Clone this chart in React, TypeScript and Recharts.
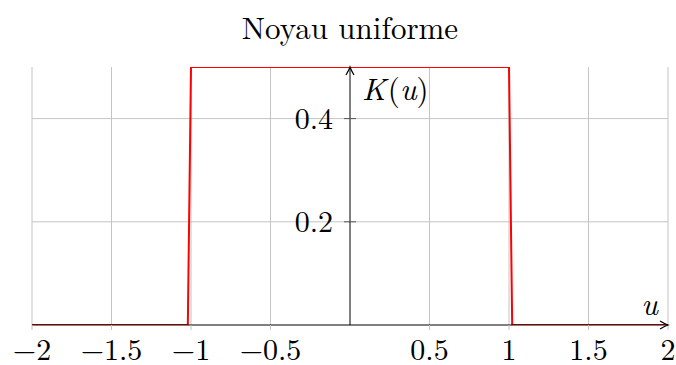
import React from 'react';
import { LineChart, Line, XAxis, YAxis, ReferenceLine, ReferenceDot } from 'recharts';

const kernelU = [-2, -1.02, -1.0, 1.0, 1.02, 2];
const kernelK = [0, 0, 0.5, 0.5, 0, 0];
const xTicks = [-2, -1.5, -1, -0.5, 0.5, 1, 1.5, 2];
const yTicks = [0.2, 0.4];
const titleText = 'Noyau uniforme';

const data = kernelU.map((u, i) => ({ u, k: kernelK[i] }));

const FONT = "'Latin Modern Roman', 'Liberation Serif', serif";
const GRID = '#c4c4c4';

const fmt = (v: number) => String(v).replace('-', '\u2212');

const YTickShape = (props: any) => {
  const { cx, cy, payloadLabel } = props;
  return (
    <g>
      <line x1={cx - 6} y1={cy} x2={cx + 6} y2={cy} stroke="#555" strokeWidth={1} />
      <text x={cx - 17} y={cy + 10} textAnchor="end" fontFamily={FONT} fontSize={30} fill="#000">
        {payloadLabel}
      </text>
    </g>
  );
};

const YArrow = (props: any) => {
  const { cx, cy } = props;
  return (
    <g>
      <path d={`M${cx - 4},${cy + 8} Q${cx - 1},${cy + 3} ${cx},${cy} Q${cx + 1},${cy + 3} ${cx + 4},${cy + 8}`} stroke="#000" strokeWidth={1.2} fill="none" />
      <text x={cx + 12} y={cy + 33} fontFamily={FONT} fontSize={31} fill="#000">
        <tspan fontStyle="italic">K</tspan>
        <tspan dx={2}>(</tspan>
        <tspan fontStyle="italic">u</tspan>
        <tspan>)</tspan>
      </text>
    </g>
  );
};

const XArrow = (props: any) => {
  const { cx, cy } = props;
  return (
    <g>
      <path d={`M${cx - 8},${cy - 4} Q${cx - 3},${cy - 1} ${cx},${cy} Q${cx - 3},${cy + 1} ${cx - 8},${cy + 4}`} stroke="#000" strokeWidth={1.2} fill="none" />
      <text x={cx - 10} y={cy - 10} textAnchor="end" fontFamily={FONT} fontSize={31} fontStyle="italic" fill="#000">
        u
      </text>
    </g>
  );
};

export default function App() {
  return (
    <div style={{ position: 'absolute', left: 0, top: 0, width: 676, height: 365, background: '#fff' }}>
      <div
        style={{
          position: 'absolute',
          left: 0,
          top: 11,
          width: 700,
          textAlign: 'center',
          fontFamily: FONT,
          fontSize: 31,
          lineHeight: '31px',
          color: '#000',
        }}
      >
        {titleText}
      </div>
      <LineChart
        width={676}
        height={365}
        data={data}
        margin={{ top: 67, right: 8, left: 32, bottom: 0 }}
      >
        <XAxis
          dataKey="u"
          type="number"
          domain={[-2, 2]}
          ticks={xTicks}
          tickFormatter={fmt}
          height={40}
          tickSize={5}
          tickMargin={9}
          axisLine={{ stroke: '#000', strokeWidth: 1 }}
          tickLine={{ stroke: GRID }}
          tick={{ fill: '#000', fontSize: 30, fontFamily: FONT }}
          interval={0}
          allowDataOverflow
        />
        <YAxis type="number" domain={[0, 0.5]} hide allowDataOverflow />
        {xTicks.map((t) => (
          <ReferenceLine key={'vx' + t} x={t} stroke={GRID} strokeWidth={1} />
        ))}
        {yTicks.map((t) => (
          <ReferenceLine key={'hy' + t} y={t} stroke={GRID} strokeWidth={1} />
        ))}
        <ReferenceLine x={0} stroke="#000" strokeWidth={1} />
        <Line
          type="linear"
          dataKey="k"
          stroke="#ff0000"
          strokeWidth={2}
          dot={false}
          isAnimationActive={false}
        />
        {yTicks.map((t) => (
          <ReferenceDot
            key={'yt' + t}
            x={0}
            y={t}
            r={0}
            shape={(p: any) => <YTickShape {...p} payloadLabel={fmt(t)} />}
          />
        ))}
        <ReferenceDot x={0} y={0.5} r={0} shape={(p: any) => <YArrow {...p} />} />
        <ReferenceDot x={2} y={0} r={0} shape={(p: any) => <XArrow {...p} />} />
      </LineChart>
    </div>
  );
}
